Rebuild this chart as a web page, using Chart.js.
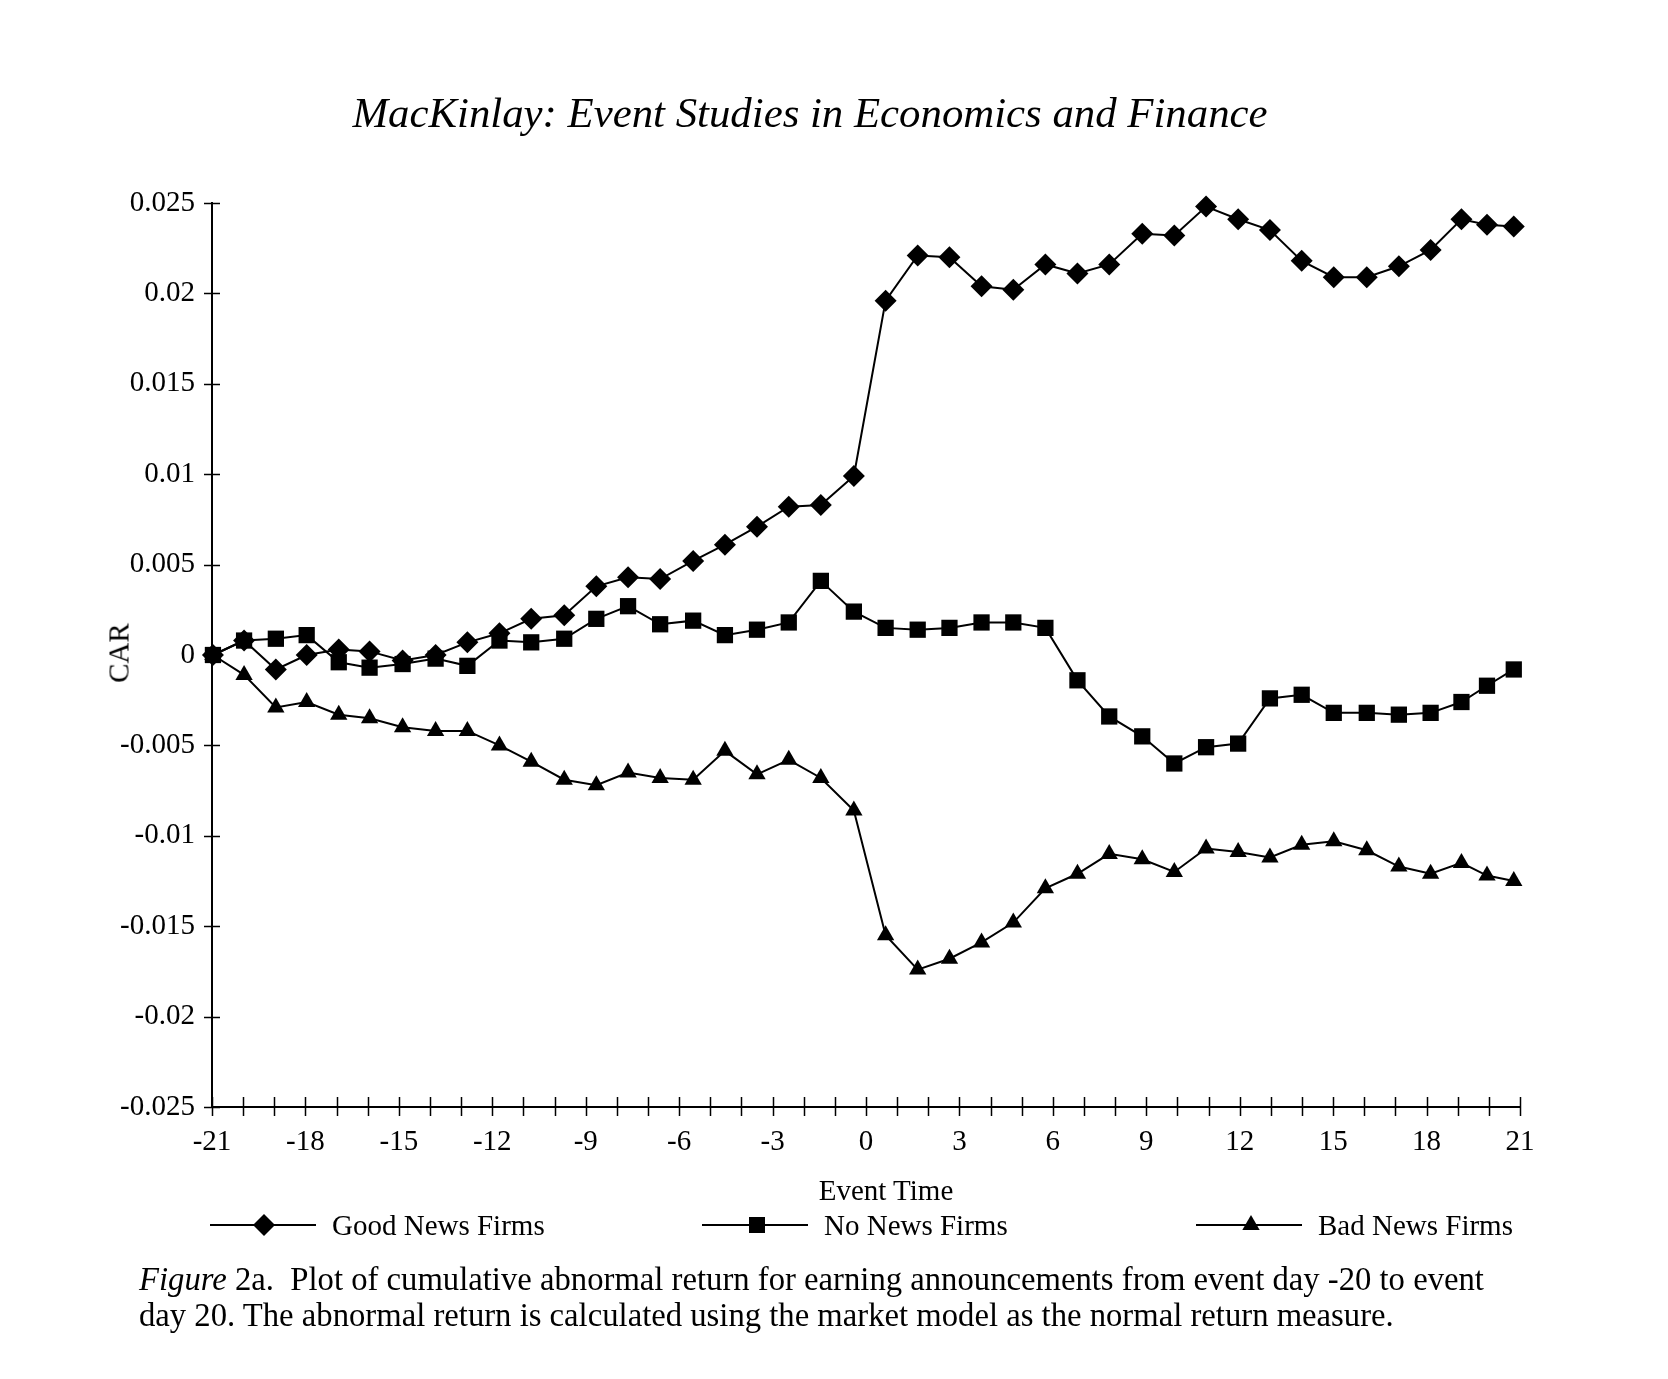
<!DOCTYPE html>
<html>
<head>
<meta charset="utf-8">
<title>CAR around earnings announcements</title>
<script src="https://cdn.jsdelivr.net/npm/chart.js@4.4.1/dist/chart.umd.min.js"></script>
<style>
  html, body { margin: 0; padding: 0; background: #fff; }
  #page { position: relative; width: 1668px; height: 1379px; font-family: "Liberation Serif", serif; color: #000; }
  #chart-wrap { position: absolute; left: 0; top: 0; width: 1668px; height: 1379px; }
  .txt { position: absolute; white-space: nowrap; line-height: 1; }
  #title { left: 0; width: 1620px; top: 92px; text-align: center; font-size: 42.8px; font-style: italic; }
  #car { left: 119px; top: 653px; font-size: 29px; transform: translate(-50%, -50%) rotate(-90deg); }
  #xtitle { left: 786px; width: 200px; top: 1176px; text-align: center; font-size: 29px; }
  .leg { position: absolute; top: 1210px; height: 30px; display: flex; align-items: center; font-size: 29px; white-space: nowrap; }
  .leg svg { display: block; margin-right: 16px; }
  #caption { position: absolute; left: 139px; top: 1261px; font-size: 32.7px; line-height: 36px; white-space: nowrap; }
</style>
</head>
<body>
<div id="page">
  <div id="chart-wrap"><canvas id="car-chart"></canvas></div>
  <div id="title" class="txt">MacKinlay: Event Studies in Economics and Finance</div>
  <div id="car" class="txt">CAR</div>
  <div id="xtitle" class="txt">Event Time</div>
  <div id="legend"></div>
  <div id="caption"><i>Figure</i> 2a.&nbsp; Plot of cumulative abnormal return for earning announcements from event day -20 to event<br>day 20. The abnormal return is calculated using the market model as the normal return measure.</div>
</div>
<script>
// positions of the 42 plotted points along the event-time axis
const eventTime = [
  -20.97, -19.97, -18.95, -17.96, -16.93, -15.94, -14.88, -13.82, -12.80, -11.77,
  -10.75,  -9.69,  -8.66,  -7.64,  -6.61,  -5.55,  -4.53,  -3.50,  -2.48,  -1.45,
   -0.39,   0.63,   1.66,   2.68,   3.71,   4.73,   5.76,   6.79,   7.81,   8.87,
    9.90,  10.92,  11.95,  12.97,  13.99,  15.02,  16.08,  17.11,  18.13,  19.12,
   19.94,  20.80
];

const goodNews = [
  0.0000, 0.0008, -0.0008, 0.0000, 0.0003, 0.0002, -0.0003, 0.0000, 0.0007, 0.0012,
  0.0020, 0.0022, 0.0038, 0.0043, 0.0042, 0.0052, 0.0061, 0.0071, 0.0082, 0.0083,
  0.0099, 0.0196, 0.0221, 0.0220, 0.0204, 0.0202, 0.0216, 0.0211, 0.0216, 0.0233,
  0.0232, 0.0248, 0.0241, 0.0235, 0.0218, 0.0209, 0.0209, 0.0215, 0.0224, 0.0241,
  0.0238, 0.0237
];

const noNews = [
  0.0000, 0.0008, 0.0009, 0.0011, -0.0004, -0.0007, -0.0005, -0.0002, -0.0006, 0.0008,
  0.0007, 0.0009, 0.0020, 0.0027, 0.0017, 0.0019, 0.0011, 0.0014, 0.0018, 0.0041,
  0.0024, 0.0015, 0.0014, 0.0015, 0.0018, 0.0018, 0.0015, -0.0014, -0.0034, -0.0045,
  -0.0060, -0.0051, -0.0049, -0.0024, -0.0022, -0.0032, -0.0032, -0.0033, -0.0032, -0.0026,
  -0.0017, -0.0008
];

const badNews = [
  0.0000, -0.0011, -0.0029, -0.0026, -0.0033, -0.0035, -0.0040, -0.0042, -0.0042, -0.0050,
  -0.0059, -0.0069, -0.0072, -0.0065, -0.0068, -0.0069, -0.0053, -0.0066, -0.0058, -0.0068,
  -0.0086, -0.0155, -0.0174, -0.0168, -0.0159, -0.0148, -0.0129, -0.0121, -0.0110, -0.0113,
  -0.0120, -0.0107, -0.0109, -0.0112, -0.0105, -0.0103, -0.0108, -0.0117, -0.0121, -0.0115,
  -0.0122, -0.0125
];

const seriesNames = ['Good News Firms', 'No News Firms', 'Bad News Firms'];
const X_MIN = -21, X_MAX = 21, X_STEP = 3;
const Y_MIN = -0.025, Y_MAX = 0.025, Y_STEP = 0.005;

const MARKERS = [
  { style: 'rectRot',  radius: 11 },
  { style: 'rect',     radius: 11.5 },
  { style: 'triangle', radius: 10 },
];

Chart.defaults.font.family = '"Liberation Serif", serif';
Chart.defaults.font.size = 29;
Chart.defaults.color = '#000';

const pts = ys => ys.map((y, i) => ({ x: eventTime[i], y }));

// tick marks crossing both axes, one per event day on x
const crossTicks = {
  id: 'crossTicks',
  beforeDatasetsDraw(chart) {
    const { ctx, chartArea: a, scales: { x, y } } = chart;
    ctx.save();
    ctx.strokeStyle = '#000';
    ctx.lineWidth = 1.5;
    ctx.beginPath();
    for (let v = X_MIN; v <= X_MAX; v++) {
      const px = Math.round(x.getPixelForValue(v)) + 0.5;
      ctx.moveTo(px, a.bottom - 10);
      ctx.lineTo(px, a.bottom + 9);
    }
    y.ticks.forEach(t => {
      const py = Math.round(y.getPixelForValue(t.value)) + 0.5;
      ctx.moveTo(a.left - 8, py);
      ctx.lineTo(a.left + 8, py);
    });
    ctx.stroke();
    ctx.restore();
  }
};

const datasets = [goodNews, noNews, badNews].map((ys, i) => ({
  label: seriesNames[i],
  data: pts(ys),
  borderColor: '#000',
  backgroundColor: '#000',
  borderWidth: 2,
  pointStyle: MARKERS[i].style,
  pointRadius: MARKERS[i].radius,
  pointBorderWidth: 0,
  pointHoverRadius: MARKERS[i].radius,
  tension: 0,
  clip: false,
}));

new Chart(document.getElementById('car-chart'), {
  type: 'line',
  data: { datasets },
  options: {
    responsive: true,
    maintainAspectRatio: false,
    animation: false,
    events: [],
    layout: { padding: { left: 112, top: 203, right: 148, bottom: 202 } },
    plugins: { legend: { display: false }, tooltip: { enabled: false } },
    scales: {
      x: {
        type: 'linear',
        min: X_MIN, max: X_MAX,
        grid: { display: false, drawTicks: false },
        border: { display: true, color: '#000', width: 2 },
        ticks: { stepSize: X_STEP, padding: 18, maxRotation: 0, autoSkip: false },
        afterFit: s => { s.height = 70; },
      },
      y: {
        min: Y_MIN, max: Y_MAX,
        grid: { display: false, drawTicks: false },
        border: { display: true, color: '#000', width: 2 },
        ticks: {
          stepSize: Y_STEP, padding: 17,
          callback: v => String(Math.round(v * 1000) / 1000),
        },
        afterFit: s => { s.width = 100; },
      },
    },
  },
  plugins: [crossTicks],
});

// legend: short line with the series marker in the middle
const LEGEND_POS = [210, 702, 1196];
function markerSvg(style) {
  if (style === 'rectRot') return '<polygon points="54,4 65,15 54,26 43,15" fill="#000"/>';
  if (style === 'rect') return '<rect x="47" y="7" width="16" height="16" fill="#000"/>';
  return '<polygon points="55,5 63.7,20 46.3,20" fill="#000"/>';
}
const legend = document.getElementById('legend');
seriesNames.forEach((name, i) => {
  const el = document.createElement('div');
  el.className = 'leg';
  el.style.left = LEGEND_POS[i] + 'px';
  el.innerHTML = `<svg width="106" height="30" viewBox="0 0 106 30">
      <line x1="0" y1="15" x2="106" y2="15" stroke="#000" stroke-width="2"/>${markerSvg(MARKERS[i].style)}
    </svg><span>${name}</span>`;
  legend.appendChild(el);
});
</script>
</body>
</html>
